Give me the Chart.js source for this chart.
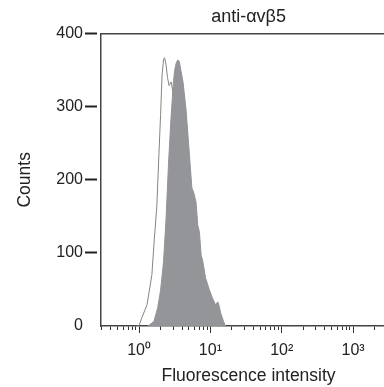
<!DOCTYPE html>
<html><head><meta charset="utf-8">
<script src="https://cdn.jsdelivr.net/npm/chart.js@4"></script>
<style>
html,body{margin:0;padding:0;overflow:hidden;background:#fff;width:384px;height:387px}
#wrap{position:relative;width:406px;height:387px}
</style></head>
<body><div id="wrap"><canvas id="c" width="406" height="387"></canvas></div>
<script>
const chartTitle = 'anti-\u03b1v\u03b25';
const xTitle = 'Fluorescence intensity';
const yTitle = 'Counts';
const yTicks = [0, 100, 200, 300, 400];
const xMajorTicks = [1, 10, 100, 1000];
const xTickLabels = ['10\u2070', '10\u00b9', '10\u00b2', '10\u00b3'];
const xMin = 0.292, xMax = 4010;

// isotype control (open histogram)
const openX = [0.94, 1.00, 1.10, 1.29, 1.51, 1.63, 1.77, 1.88, 2.00, 2.10, 2.20, 2.27, 2.38, 2.50, 2.63, 2.81, 3.02, 3.32, 4.14, 5.67, 7.77];
const openY = [0, 1, 12, 29, 70, 118, 163, 227, 289, 344, 364, 367, 358, 340, 329, 334, 316, 282, 173, 49, 0];
// anti-avb5 (filled histogram)
const filledX = [1.33, 1.46, 1.61, 1.82, 2.00, 2.20, 2.38, 2.58, 2.79, 3.02, 3.16, 3.32, 3.48, 3.65, 3.88, 4.14, 4.55, 5.08, 5.49, 5.85, 6.29, 6.64, 7.00, 7.41, 7.77, 8.54, 9.69, 10.7, 11.8, 12.7, 13.3, 13.9, 15.3, 16.3];
const filledY = [0, 3, 6, 25, 49, 88, 145, 221, 282, 333, 351, 360, 364, 362, 348, 333, 296, 234, 189, 182, 169, 138, 129, 97, 90, 66, 49, 38, 29, 33, 27, 18, 6, 0];

const FONT = 'Liberation Sans, Arial, Helvetica, sans-serif';
const TXT = '#222';
const AXIS = '#444';

function pts(xs, ys) { return xs.map((x, i) => ({x: x, y: ys[i]})); }

const logTickValues = [];
for (let d = -1; d <= 3; d++) {
  for (let m = 1; m <= 9; m++) {
    const v = m * Math.pow(10, d);
    if (v >= xMin && v <= xMax) logTickValues.push(v);
  }
}

new Chart(document.getElementById('c'), {
  type: 'line',
  data: {
    datasets: [
      {
        label: 'anti-avb5',
        data: pts(filledX, filledY),
        borderColor: '#939598',
        borderWidth: 1,
        backgroundColor: '#939598',
        fill: 'origin',
        pointRadius: 0,
        tension: 0
      },
      {
        label: 'control',
        data: pts(openX, openY),
        borderColor: '#858585',
        borderWidth: 1,
        backgroundColor: 'rgba(0,0,0,0)',
        fill: false,
        pointRadius: 0,
        tension: 0
      }
    ]
  },
  options: {
    responsive: false,
    animation: false,
    devicePixelRatio: 1,
    layout: {padding: {left: 0, right: 3, top: 1, bottom: 0}},
    plugins: {legend: {display: false}, tooltip: {enabled: false}, title: {display: false}},
    scales: {
      x: {
        type: 'logarithmic',
        position: 'bottom',
        min: xMin,
        max: xMax,
        afterBuildTicks: (s) => { s.ticks = logTickValues.map(v => ({value: v})); },
        grid: {
          drawOnChartArea: false,
          drawTicks: true,
          tickLength: 7,
          tickWidth: 1,
          tickColor: '#333',
          tickBorderDash: (ctx) => (ctx.tick && xMajorTicks.includes(ctx.tick.value)) ? [] : [3.5, 100]
        },
        border: {display: true, color: AXIS, width: 1.5},
        ticks: {
          autoSkip: false,
          maxRotation: 0,
          padding: 10,
          color: TXT,
          font: {family: FONT, size: 16, lineHeight: 1},
          callback: (v) => {
            const k = xMajorTicks.indexOf(v);
            return k >= 0 ? xTickLabels[k] : '';
          }
        },
        title: {display: true, text: xTitle, color: TXT, font: {family: FONT, size: 17.5, lineHeight: 0.8}, padding: {top: 0, bottom: 4}}
      },
      x2: {
        type: 'linear',
        position: 'top',
        min: 0,
        max: 1,
        ticks: {display: false},
        grid: {display: false, drawTicks: false},
        border: {display: true, color: AXIS, width: 1.5},
        title: {display: true, text: chartTitle, color: TXT, font: {family: FONT, size: 18}, padding: {top: 5, bottom: 6}}
      },
      y: {
        min: 0,
        max: 400,
        afterBuildTicks: (s) => { s.ticks = yTicks.map(v => ({value: v})); },
        grid: {
          drawOnChartArea: false,
          drawTicks: true,
          tickLength: 16,
          tickWidth: 2,
          tickColor: (ctx) => (ctx.tick && ctx.tick.value === 0) ? 'rgba(0,0,0,0)' : '#222',
          tickBorderDash: [12, 100]
        },
        border: {display: true, color: AXIS, width: 1.5},
        ticks: {padding: 2, color: TXT, font: {family: FONT, size: 16}},
        title: {display: true, text: yTitle, color: TXT, font: {family: FONT, size: 17.5}, padding: {top: 15, bottom: 18.3}}
      }
    }
  }
});
</script>
</body></html>
